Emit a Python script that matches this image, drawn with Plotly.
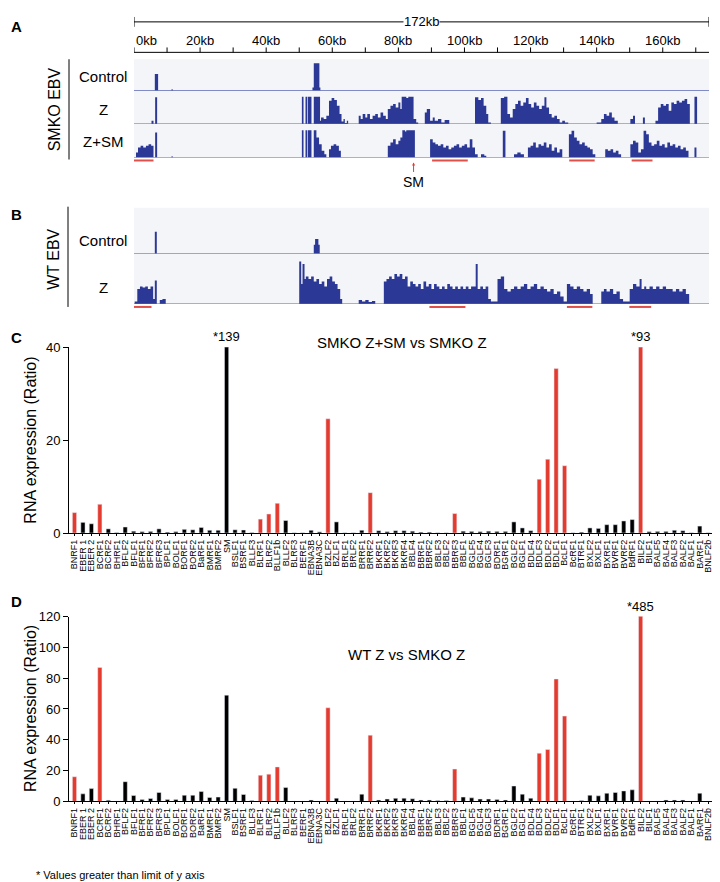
import plotly.graph_objects as go

W, H = 720, 882
FONT = "Liberation Sans, Arial, Helvetica, sans-serif"

# ---- panel C / D data ----
genes = ["BNRF1", "EBER 1", "EBER 2", "BCRF1", "BCRF2", "BHRF1", "BFLF2", "BFLF1", "BFRF1", "BFRF2",
         "BFRF3", "BPLF1", "BOLF1", "BORF1", "BORF2", "BaRF1", "BMRF1", "BMRF2", "SM", "BSLF1",
         "BSRF1", "BLLF3", "BLRF1", "BLRF2", "BLLF1b", "BLLF2", "BLRF3", "BERF1", "EBNA3B", "EBNA3C",
         "BZLF2", "BZLF1", "BRLF1", "BRLF2", "BRRF1", "BRRF2", "BKRF1", "BKRF2", "BKRF3", "BKRF4",
         "BBLF4", "BBRF1", "BBRF2", "BBLF3", "BBLF2", "BBRF3", "BBLF1", "BGLF5", "BGLF4", "BGLF3",
         "BDRF1", "BGRF1", "BGLF2", "BGLF1", "BDLF4", "BDLF3", "BDLF2", "BDLF1", "BcLF1", "BcRF1",
         "BTRF1", "BXLF2", "BXLF1", "BXRF1", "BVRF1", "BVRF2", "BdRF1", "BILF2", "BILF1", "BALF5",
         "BALF4", "BALF3", "BALF2", "BALF1", "BARF1", "BNLF2b", "BNLF2a"]

smko_zsm_vs_z = [4.4, 2.3, 2.0, 6.2, 0.9, 0.1, 1.3, 0.4, 0.3, 0.35,
                 0.9, 0.2, 0.3, 0.8, 0.7, 1.2, 0.6, 0.6, 139, 0.7,
                 0.65, 0.1, 3.0, 4.1, 6.4, 2.7, 0.05, 0.05, 0.6, 0.25,
                 24.6, 2.4, 0.05, 0.05, 0.6, 8.7, 0.5, 0.3, 0.5, 0.5,
                 0.4, 0.2, 0.2, 0.05, 0.05, 4.2, 0.4, 0.35, 0.3, 0.4,
                 0.35, 0.35, 2.4, 1.1, 0.5, 11.6, 15.9, 35.4, 14.5, 0.05,
                 0.2, 1.1, 1.0, 1.8, 1.8, 2.6, 2.9, 93, 0.3, 0.35,
                 0.35, 0.6, 0.5, 0.05, 1.5, 0.05, 0.05]

wt_z_vs_smko_z = [16.0, 4.9, 8.3, 87, 0.8, 0.2, 12.8, 3.8, 1.3, 1.9,
                  5.8, 1.3, 1.3, 4.0, 4.0, 6.4, 2.6, 2.8, 69, 8.5,
                  4.5, 0.6, 17.0, 17.7, 22.4, 9.0, 0.2, 0.2, 0.9, 0.3,
                  60.8, 2.1, 0.2, 0.2, 4.7, 43, 0.9, 1.5, 2.0, 2.1,
                  1.7, 0.9, 0.9, 0.6, 0.6, 21, 2.8, 2.3, 1.5, 1.5,
                  1.3, 0.9, 10.0, 4.7, 2.1, 31.3, 33.7, 79.5, 55.4, 0.2,
                  0.6, 4.0, 3.6, 5.3, 5.8, 6.8, 7.5, 485, 0.2, 0.3,
                  0.9, 0.9, 0.9, 0.2, 5.3, 0.2, 0.2]

red_genes = ["BNRF1", "BCRF1", "BLRF1", "BLRF2", "BLLF1b", "BZLF2", "BRRF2", "BBRF3",
             "BDLF3", "BDLF2", "BDLF1", "BcLF1", "BILF2"]

# ---- panel A / B coverage tracks: (kb, relative height) step points ----
smko_control = [(0, 0), (6.3, 0.53), (7.3, 0), (11.3, 0.04), (11.8, 0), (54.0, 0.1), (54.4, 0.87),
                (56.1, 0.1), (56.4, 0), (174, 0)]

smko_z = [(0, 0), (5.3, 0.1), (5.9, 0), (6.4, 0.8), (7.0, 0), (50.8, 0.82), (51.3, 0), (51.9, 0.82),
          (52.4, 0), (52.6, 0.82), (53.7, 0), (54.4, 0.82), (56.3, 0.1), (56.6, 0.2), (57.4, 0.15),
          (58.2, 0.25), (59.0, 0.7), (59.8, 0.78), (60.6, 0.72), (61.4, 0.55), (62.2, 0.3), (62.8, 0.08),
          (63.4, 0.15), (63.8, 0.03), (64.4, 0.1), (64.8, 0), (68.0, 0.25), (68.6, 0.15), (69.2, 0.3),
          (70.0, 0.2), (70.6, 0.3), (71.4, 0.15), (72.2, 0.25), (73.0, 0.3), (73.8, 0.2), (74.6, 0.35),
          (75.4, 0.25), (76.2, 0.15), (76.8, 0.45), (77.6, 0.55), (78.4, 0.6), (79.2, 0.5), (80.0, 0.65),
          (80.6, 0.45), (81.0, 0.82), (82.4, 0.78), (83.0, 0.82), (84.6, 0.15), (85.4, 0.05), (86.0, 0),
          (88.0, 0.35), (88.6, 0.45), (89.6, 0.1), (90.4, 0.2), (91.0, 0.1), (92.0, 0.15), (93.0, 0.05),
          (94.0, 0.12), (95.4, 0), (103.2, 0.8), (104.2, 0.72), (105.0, 0.78), (105.8, 0.55), (106.6, 0.3),
          (107.2, 0.05), (108.0, 0), (111.0, 0.78), (112.0, 0.82), (113.0, 0.3), (113.8, 0.2),
          (114.6, 0.45), (115.4, 0.6), (116.2, 0.7), (117.0, 0.55), (117.8, 0.65), (118.6, 0.78),
          (119.4, 0.6), (120.2, 0.5), (121.0, 0.65), (121.8, 0.55), (122.6, 0.45), (123.4, 0.55),
          (124.2, 0.8), (124.8, 0.5), (125.6, 0.3), (126.4, 0.2), (127.2, 0.25), (128.0, 0.15),
          (128.8, 0.05), (129.6, 0.1), (130.4, 0.05), (131.4, 0), (140.0, 0.05), (141.4, 0.15),
          (142.2, 0.3), (143.0, 0.25), (143.8, 0.35), (144.6, 0.2), (145.4, 0.1), (146.4, 0),
          (150.2, 0.15), (151.0, 0.25), (151.6, 0), (154.0, 0.2), (154.6, 0), (157.8, 0.1),
          (158.6, 0.5), (159.4, 0.6), (160.2, 0.55), (161.0, 0.6), (161.8, 0.4), (162.6, 0.65),
          (163.4, 0.6), (164.2, 0.7), (165.0, 0.65), (165.8, 0.7), (166.6, 0.75), (167.4, 0.6),
          (168.2, 0), (169.6, 0.82), (170.4, 0), (174, 0)]

smko_z_sm = [(0, 0), (0.6, 0.15), (1.2, 0.3), (2.0, 0.35), (2.8, 0.3), (3.6, 0.35), (4.4, 0.4),
             (5.2, 0.35), (5.9, 0), (6.4, 0.75), (7.0, 0), (11.3, 0.03), (11.8, 0), (50.8, 0.82),
             (51.3, 0), (51.9, 0.82), (52.4, 0), (52.6, 0.82), (53.7, 0), (54.4, 0.82), (55.2, 0.6),
             (56.0, 0.4), (56.8, 0.2), (57.6, 0.1), (58.2, 0), (59.0, 0.25), (59.6, 0.35), (60.4, 0.4),
             (61.2, 0.35), (62.0, 0.2), (62.6, 0), (76.8, 0.35), (77.6, 0.45), (78.4, 0.55), (79.2, 0.4),
             (80.0, 0.5), (80.6, 0.6), (81.2, 0.82), (82.0, 0.78), (82.4, 0.82), (85.0, 0), (89.6, 0.55),
             (90.4, 0.45), (91.2, 0.4), (92.0, 0.35), (92.8, 0.4), (93.6, 0.3), (94.4, 0.35), (95.2, 0.25),
             (96.0, 0.3), (96.8, 0.35), (97.6, 0.4), (98.4, 0.3), (99.2, 0.35), (100.0, 0.4), (100.8, 0.3),
             (101.6, 0.55), (102.4, 0.3), (103.2, 0.1), (104.0, 0), (105.0, 0.1), (106.0, 0.05), (106.6, 0),
             (111.6, 0.8), (112.4, 0), (115.0, 0.1), (116.0, 0.15), (117.0, 0.1), (118.0, 0), (119.2, 0.3),
             (120.0, 0.35), (120.8, 0.45), (121.6, 0.3), (122.4, 0.4), (123.2, 0.35), (124.0, 0.45),
             (124.8, 0.3), (125.6, 0.4), (126.4, 0.2), (127.2, 0.3), (128.0, 0.15), (128.8, 0.25),
             (129.6, 0), (131.6, 0.7), (132.4, 0.8), (133.2, 0.6), (134.0, 0.5), (134.8, 0.4), (135.6, 0.45),
             (136.4, 0.35), (137.2, 0.3), (138.0, 0.25), (138.8, 0.1), (139.6, 0), (142.6, 0.25),
             (143.4, 0.2), (144.2, 0.25), (145.0, 0.15), (145.8, 0.2), (146.6, 0.1), (147.4, 0),
             (150.2, 0.4), (151.0, 0.5), (151.8, 0.45), (152.6, 0.15), (153.4, 0.25), (154.2, 0.8),
             (155.0, 0.7), (155.8, 0.45), (156.6, 0.35), (157.4, 0.4), (158.2, 0.5), (159.0, 0.35),
             (159.8, 0.4), (160.6, 0.3), (161.4, 0.45), (162.2, 0.35), (163.0, 0.4), (163.8, 0.3),
             (164.6, 0.35), (165.4, 0.25), (166.2, 0.3), (167.0, 0.2), (167.8, 0), (169.6, 0.3),
             (170.2, 0), (174, 0)]

wt_control = [(0, 0), (6.3, 0.48), (6.9, 0), (54.4, 0.2), (54.8, 0.32), (55.8, 0.2), (56.2, 0), (174, 0)]

wt_z = [(0, 0), (0.2, 0.05), (1.0, 0.3), (1.8, 0.35), (2.6, 0.33), (3.4, 0.35), (4.2, 0.3), (5.0, 0.35),
        (5.8, 0.1), (6.3, 0.47), (6.9, 0), (7.8, 0.08), (8.6, 0.1), (9.6, 0), (50.0, 0.85), (50.6, 0.4),
        (51.0, 0.8), (51.6, 0.5), (52.0, 0.55), (52.8, 0.5), (53.6, 0.55), (54.4, 0.45), (55.2, 0.5),
        (56.0, 0.4), (56.8, 0.45), (57.6, 0.35), (58.4, 0.5), (59.2, 0.55), (60.0, 0.45), (60.8, 0.4),
        (61.6, 0.3), (62.4, 0.1), (63.0, 0), (68.0, 0.08), (69.0, 0.05), (70.0, 0.08), (71.0, 0.04),
        (72.0, 0.06), (73.0, 0), (75.6, 0.45), (76.4, 0.5), (77.2, 0.55), (78.0, 0.5), (78.8, 0.6),
        (79.6, 0.55), (80.4, 0.6), (81.2, 0.5), (82.0, 0.55), (82.8, 0.35), (83.6, 0.45), (84.4, 0.4),
        (85.2, 0.35), (86.0, 0.4), (86.8, 0.3), (87.6, 0.45), (88.4, 0.35), (89.2, 0.4), (90.0, 0.3),
        (90.8, 0.4), (91.6, 0.35), (92.4, 0.3), (93.2, 0.35), (94.0, 0.3), (94.8, 0.4), (95.6, 0.35),
        (96.4, 0.3), (97.2, 0.35), (98.0, 0.3), (98.8, 0.35), (99.6, 0.3), (100.4, 0.35), (101.2, 0.3),
        (102.0, 0.35), (103.4, 0.8), (104.0, 0.3), (104.8, 0.35), (105.6, 0.3), (106.4, 0.35),
        (107.2, 0.1), (108.0, 0.05), (110.0, 0.5), (111.0, 0.55), (112.0, 0.3), (113.0, 0.25),
        (114.0, 0.3), (115.0, 0.35), (116.0, 0.3), (117.0, 0.35), (118.0, 0.4), (119.0, 0.3),
        (120.0, 0.35), (121.0, 0.4), (122.0, 0.3), (123.0, 0.35), (124.0, 0.3), (125.0, 0.25),
        (126.0, 0.3), (127.0, 0.2), (128.0, 0.25), (129.0, 0.15), (130.0, 0.05), (131.0, 0.4),
        (132.0, 0.35), (133.0, 0.3), (134.0, 0.35), (135.0, 0.3), (136.0, 0.25), (137.0, 0.3),
        (138.0, 0.2), (138.8, 0), (141.4, 0.25), (142.2, 0.3), (143.0, 0.25), (144.0, 0.3),
        (145.0, 0.2), (146.0, 0.25), (147.0, 0.1), (148.0, 0.05), (150.0, 0.3), (151.0, 0.4),
        (152.0, 0.35), (153.0, 0.5), (153.6, 0.3), (154.4, 0.35), (155.0, 0.3), (156.0, 0.35),
        (157.0, 0.3), (158.0, 0.35), (159.0, 0.3), (160.0, 0.35), (161.0, 0.3), (162.0, 0.3),
        (163.0, 0.25), (164.0, 0.3), (165.0, 0.25), (166.0, 0.3), (167.0, 0.2), (168.0, 0), (174, 0)]

smko_regions = [(0, 5.9), (90.2, 101.0), (131.7, 139.4), (150.6, 156.9)]
wt_regions = [(-0.6, 5.3), (89.4, 100.3), (131.0, 138.7), (149.9, 156.5)]
sm_position = 84.6
ruler_labels = [0, 20, 40, 60, 80, 100, 120, 140, 160]
genome_kb = 172

NAVY = "#2b3896"
RED = "#e53a2e"


def py(px):
    return 1 - px / H


def px_x(px):
    return px / W


def note(x, y, text, size, angle=0, xanchor="center", **kw):
    return dict(x=x, y=y, xref="paper", yref="paper", text=text, showarrow=False, textangle=angle,
                xanchor=xanchor, yanchor="middle", font=dict(size=size), **kw)


fig = go.Figure()

# coverage tracks
tracks = [("y", smko_control), ("y2", smko_z), ("y3", smko_z_sm), ("y4", wt_control), ("y5", wt_z)]
for yname, pts in tracks:
    fig.add_trace(go.Scatter(x=[p[0] for p in pts], y=[p[1] for p in pts], xaxis="x", yaxis=yname,
                             mode="lines", line=dict(width=0, shape="hv", color=NAVY),
                             fill="tozeroy", fillcolor=NAVY, hoverinfo="skip", showlegend=False))

# bar panels
colors = [RED if g in red_genes else "black" for g in genes]
c_lim, d_lim = 40, 120
fig.add_trace(go.Bar(x=genes, y=smko_zsm_vs_z, marker_color=colors, width=0.5,
                     xaxis="x2", yaxis="y6", showlegend=False))
fig.add_trace(go.Bar(x=genes, y=wt_z_vs_smko_z, marker_color=colors, width=0.5,
                     xaxis="x3", yaxis="y7", showlegend=False))

shapes = []
annotations = []

# track backgrounds and baselines
for top, bottom in [(45, 145), (196, 294)]:
    shapes.append(dict(type="rect", xref="paper", yref="paper", x0=px_x(126), x1=px_x(701),
                       y0=py(bottom), y1=py(top), fillcolor="#f4f5f8", line_width=0, layer="below"))
for yname, _ in tracks:
    shapes.append(dict(type="line", xref="x", yref=yname, x0=0, x1=174, y0=0, y1=0,
                       line=dict(color="#5a67b4", width=1.2)))

# group lines
shapes.append(dict(type="line", xref="paper", yref="paper", x0=px_x(61), x1=px_x(61),
                   y0=py(147), y1=py(45), line=dict(color="black", width=1)))
shapes.append(dict(type="line", xref="paper", yref="paper", x0=px_x(60), x1=px_x(60),
                   y0=py(297), y1=py(195), line=dict(color="black", width=1)))

# ruler
shapes.append(dict(type="line", xref="x", yref="paper", x0=0, x1=174, y0=py(7), y1=py(7),
                   line=dict(color="black", width=1)))
for xe in (0, 174):
    shapes.append(dict(type="line", xref="x", yref="paper", x0=xe, x1=xe, y0=py(12), y1=py(2),
                       line=dict(color="black", width=1)))
shapes.append(dict(type="line", xref="x", yref="paper", x0=0, x1=174, y0=py(38), y1=py(38),
                   line=dict(color="black", width=1)))
for k in range(0, 180, 10):
    xk = min(k, 174)
    shapes.append(dict(type="line", xref="x", yref="paper", x0=xk, x1=xk, y0=py(38), y1=py(33),
                       line=dict(color="black", width=1)))
annotations.append(dict(x=87, y=py(7), xref="x", yref="paper", text=f"{genome_kb}kb", showarrow=False,
                        xanchor="center", yanchor="middle", bgcolor="white", font=dict(size=13),
                        borderpad=0))
for k in ruler_labels:
    annotations.append(dict(x=k, y=py(26), xref="x", yref="paper", text=f"{k}kb", showarrow=False,
                            xanchor="left" if k == 0 else "center", yanchor="middle",
                            font=dict(size=13)))

# red regions
for regions, ypx in [(smko_regions, 148), (wt_regions, 297)]:
    for a, b in regions:
        shapes.append(dict(type="line", xref="x", yref="paper", x0=a, x1=b, y0=py(ypx), y1=py(ypx),
                           line=dict(color="#e0504a", width=2)))

annotations.append(dict(x=sm_position, y=py(150), xref="x", yref="paper", ax=0, ay=11, text="",
                        showarrow=True, arrowhead=2, arrowsize=0.6, arrowwidth=1, arrowcolor=RED))
annotations.append(dict(x=sm_position, y=py(170), xref="x", yref="paper", text="SM", showarrow=False,
                        xanchor="center", yanchor="middle", font=dict(size=14)))

# track labels
for label, ypx in [("Control", 63), ("Z", 96), ("Z+SM", 129), ("Control", 229), ("Z", 277)]:
    annotations.append(note(px_x(95), py(ypx), label, 15))
annotations.append(note(px_x(46), py(96), "SMKO EBV", 16, angle=-90))
annotations.append(note(px_x(46), py(249), "WT EBV", 16, angle=-90))

# panel letters
for letter, ypx in [("A", 12), ("B", 203), ("C", 328), ("D", 597)]:
    annotations.append(note(px_x(1), py(ypx), f"<b>{letter}</b>", 15, xanchor="left"))

# bar panel titles, y titles, over-limit labels
annotations.append(note(px_x(307), py(333), "SMKO Z+SM vs SMKO Z", 15, xanchor="left"))
annotations.append(note(px_x(338), py(651), "WT Z vs SMKO Z", 15, xanchor="left"))
for ypx in (433, 706):
    annotations.append(note(px_x(23), py(ypx), "RNA expression (Ratio)", 16, angle=-90))
for vals, lim, xr, yr in [(smko_zsm_vs_z, c_lim, "x2", "y6"), (wt_z_vs_smko_z, d_lim, "x3", "y7")]:
    for g, v in zip(genes, vals):
        if v > lim:
            annotations.append(dict(x=g, y=lim, xref=xr, yref=yr, text=f"*{v}", showarrow=False,
                                    xanchor="center", yanchor="bottom", yshift=1, font=dict(size=13)))
annotations.append(note(px_x(26), py(875), "* Values greater than limit of y axis", 11, xanchor="left"))

cat_axis = dict(type="category", range=[-0.65, 77.34], showline=True, linecolor="black", linewidth=1,
                ticks="outside", ticklen=2, tickcolor="black", tickangle=-90, tickmode="array",
                tickvals=genes, ticktext=genes, tickfont=dict(size=9), showgrid=False,
                zeroline=False, domain=[px_x(61), 1.0], ticklabeloverflow="allow")
val_axis = dict(showline=True, linecolor="black", linewidth=1, ticks="outside", ticklen=5,
                tickcolor="black", tickfont=dict(size=13), showgrid=False, zeroline=False)

hidden = dict(visible=False, range=[0, 1], fixedrange=True, anchor="x")
fig.update_layout(
    width=W, height=H, margin=dict(l=0, r=0, t=0, b=0),
    paper_bgcolor="white", plot_bgcolor="rgba(0,0,0,0)",
    font=dict(family=FONT, color="black"),
    bargap=0.5,
    xaxis=dict(domain=[px_x(126), px_x(701)], range=[0, 174], visible=False, anchor="y"),
    yaxis=dict(hidden, domain=[py(77), py(45)]),
    yaxis2=dict(hidden, domain=[py(111), py(77)]),
    yaxis3=dict(hidden, domain=[py(145), py(111)]),
    yaxis4=dict(hidden, domain=[py(243), py(196)]),
    yaxis5=dict(hidden, domain=[py(294), py(243)]),
    xaxis2=dict(cat_axis, anchor="y6"),
    yaxis6=dict(val_axis, domain=[py(527), py(338)], range=[0, c_lim], tickvals=[0, 20, 40], anchor="x2"),
    xaxis3=dict(cat_axis, anchor="y7"),
    yaxis7=dict(val_axis, domain=[py(800), py(612)], range=[0, d_lim], dtick=20, anchor="x3"),
    shapes=shapes,
    annotations=annotations,
)

fig.write_html("out.html")
